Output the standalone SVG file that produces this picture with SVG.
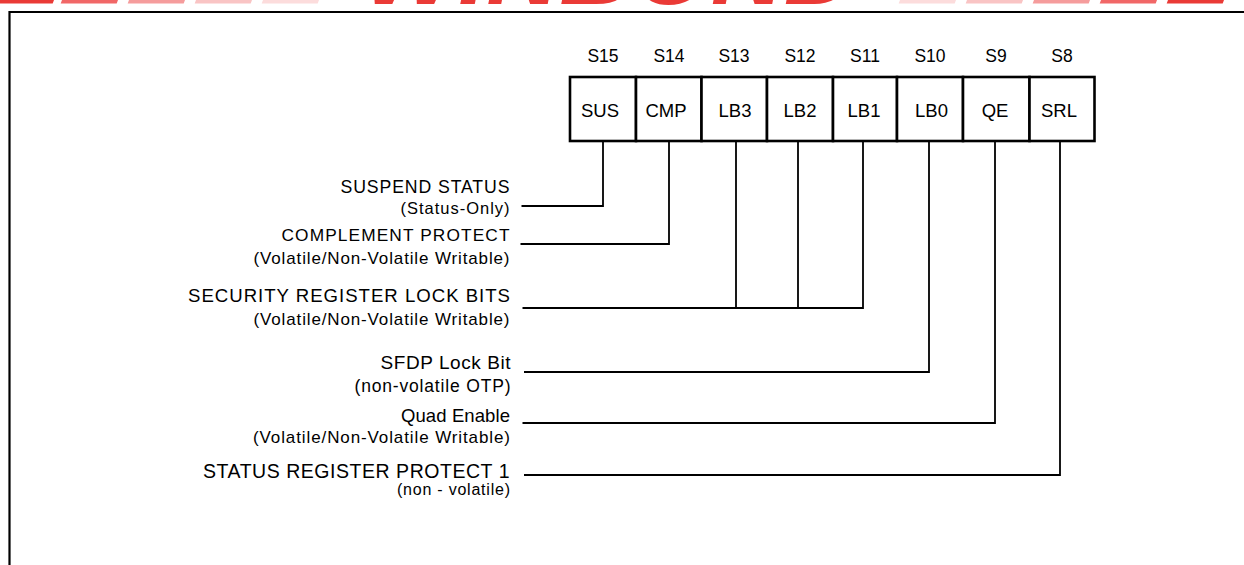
<svg xmlns="http://www.w3.org/2000/svg" width="1244" height="565" viewBox="0 0 1244 565">
<style>
.t{font-family:"Liberation Sans",Arial,sans-serif;fill:#000}
.lbl{text-anchor:end}
.cell{fill:#fff;stroke:#000;stroke-width:2.6}
.ct{text-anchor:middle;font-size:18.5px}
.st{text-anchor:middle;font-size:17.5px}
.con{fill:none;stroke:#000;stroke-width:1.8}
.wm{font-family:"Liberation Sans",Arial,sans-serif;font-weight:bold;font-style:italic;fill:#ea3a36}
</style>
<rect width="1244" height="565" fill="#fff"/>
<g id="watermark">
<g transform="skewX(-20)">
<rect x="0" y="-20" width="54" height="23.5" fill="#ea3a36"/>
<rect x="62" y="-20" width="56" height="23.5" fill="#f16767"/>
<rect x="129" y="-20" width="56" height="23.5" fill="#f59c9c"/>
<rect x="196" y="-20" width="56" height="23.5" fill="#f9c4c4"/>
<rect x="263" y="-20" width="56" height="23.5" fill="#fcdcdc"/>
<rect x="900" y="-20" width="56" height="23.5" fill="#fcdcdc"/>
<rect x="967" y="-20" width="56" height="23.5" fill="#f9c4c4"/>
<rect x="1034" y="-20" width="56" height="23.5" fill="#f59c9c"/>
<rect x="1101" y="-20" width="56" height="23.5" fill="#f16767"/>
<rect x="1168" y="-20" width="56" height="23.5" fill="#ea3a36"/>
</g>
<text class="wm" x="363" y="3.5" font-size="100" textLength="494" lengthAdjust="spacingAndGlyphs">WINBOND</text>
</g>
<g id="frame">
<path d="M9.5,565 V12 H1244" fill="none" stroke="#000" stroke-width="2.2"/>
</g>
<g id="bit-labels" class="t">
<text class="st" x="603" y="62">S15</text>
<text class="st" x="669" y="62">S14</text>
<text class="st" x="734" y="62">S13</text>
<text class="st" x="800" y="62">S12</text>
<text class="st" x="865" y="62">S11</text>
<text class="st" x="930" y="62">S10</text>
<text class="st" x="996" y="62">S9</text>
<text class="st" x="1062" y="62">S8</text>
</g>
<g id="register">
<g id="bit-S15"><rect class="cell" x="570" y="77" width="66" height="64"/><text class="t ct" x="600" y="117">SUS</text></g>
<g id="bit-S14"><rect class="cell" x="636" y="77" width="65.5" height="64"/><text class="t ct" x="666" y="117">CMP</text></g>
<g id="bit-S13"><rect class="cell" x="701.5" y="77" width="65.5" height="64"/><text class="t ct" x="735" y="117">LB3</text></g>
<g id="bit-S12"><rect class="cell" x="767" y="77" width="66" height="64"/><text class="t ct" x="800" y="117">LB2</text></g>
<g id="bit-S11"><rect class="cell" x="833" y="77" width="64" height="64"/><text class="t ct" x="864" y="117">LB1</text></g>
<g id="bit-S10"><rect class="cell" x="897" y="77" width="66" height="64"/><text class="t ct" x="931.5" y="117">LB0</text></g>
<g id="bit-S9"><rect class="cell" x="963" y="77" width="66.5" height="64"/><text class="t ct" x="995" y="117">QE</text></g>
<g id="bit-S8"><rect class="cell" x="1029.5" y="77" width="65" height="64"/><text class="t ct" x="1059" y="117">SRL</text></g>
</g>
<g id="connectors">
<path class="con" d="M521.5,206 H603 V141"/>
<path class="con" d="M520.5,244 H669 V141"/>
<path class="con" d="M522.5,308 H863 V141 M736,308 V141 M798,308 V141"/>
<path class="con" d="M524,372 H929 V141"/>
<path class="con" d="M522.5,423 H995 V141"/>
<path class="con" d="M524,475 H1060 V141"/>
</g>
<g id="desc-suspend" class="t lbl">
<text x="509.5" y="192.5" font-size="17.7" textLength="169" lengthAdjust="spacing">SUSPEND STATUS</text>
<text x="509.5" y="213.5" font-size="16.5" textLength="109" lengthAdjust="spacing">(Status-Only)</text>
</g>
<g id="desc-complement" class="t lbl">
<text x="509.5" y="240.5" font-size="17.3" textLength="228" lengthAdjust="spacing">COMPLEMENT PROTECT</text>
<text x="509.5" y="263.5" font-size="17" textLength="256" lengthAdjust="spacing">(Volatile/Non-Volatile Writable)</text>
</g>
<g id="desc-security" class="t lbl">
<text x="510" y="301.7" font-size="18.6" textLength="322" lengthAdjust="spacing">SECURITY REGISTER LOCK BITS</text>
<text x="509.5" y="325" font-size="17" textLength="256" lengthAdjust="spacing">(Volatile/Non-Volatile Writable)</text>
</g>
<g id="desc-sfdp" class="t lbl">
<text x="510.5" y="369.3" font-size="19" textLength="130" lengthAdjust="spacing">SFDP Lock Bit</text>
<text x="510.5" y="391.6" font-size="17.5" textLength="156" lengthAdjust="spacing">(non-volatile OTP)</text>
</g>
<g id="desc-quad" class="t lbl">
<text x="510" y="421.5" font-size="18.5" textLength="109" lengthAdjust="spacing">Quad Enable</text>
<text x="510" y="442.6" font-size="17" textLength="257" lengthAdjust="spacing">(Volatile/Non-Volatile Writable)</text>
</g>
<g id="desc-srp" class="t lbl">
<text x="509.5" y="477.7" font-size="19.5" textLength="306.5" lengthAdjust="spacing">STATUS REGISTER PROTECT 1</text>
<text x="510" y="494.8" font-size="16" textLength="113" lengthAdjust="spacing">(non - volatile)</text>
</g>
</svg>
